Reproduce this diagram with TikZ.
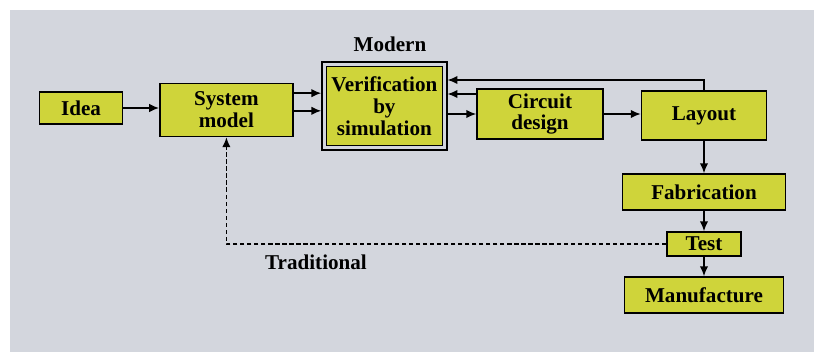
\documentclass[tikz,border=0pt]{standalone}
\usepackage{fontspec}
\setmainfont{Liberation Serif}
\usetikzlibrary{arrows.meta}
\definecolor{page}{RGB}{211,214,221}
\definecolor{boxfill}{RGB}{207,212,58}
\tikzset{
  blk/.style={draw=black, line width=1.2pt, fill=boxfill, align=center,
    font=\fontsize{15}{15.5}\selectfont\bfseries, inner sep=1pt},
  arr/.style={line width=1pt, -{Latex[length=7pt,width=6pt]}},
  trad/.style={line width=1pt, dashed, dash pattern=on 3pt off 2pt, -{Latex[length=7pt,width=6pt]}},
  lbl/.style={font=\fontsize{15}{15.5}\selectfont\bfseries}
}
\begin{document}
\begin{tikzpicture}
% page
\fill[white] (0,0) rectangle (20.35,8.8);
\fill[page] (0.25,0) rectangle (20.35,8.55);
\useasboundingbox (0,0) rectangle (20.35,8.8);

\node[blk, minimum width=2.075cm, minimum height=0.8cm] (idea) at (2.025,6.1) {Idea};
\node[blk, minimum width=3.325cm, minimum height=1.325cm] (sys) at (5.66,6.05) {System\\model};
\node[draw=black, line width=1pt, minimum width=3.125cm, minimum height=2.2cm] (vframe) at (9.61,6.15) {};
\node[blk, minimum width=2.9cm, minimum height=1.975cm] (verif) at (9.61,6.15) {Verification\\by\\simulation};
\node[blk, minimum width=3.15cm, minimum height=1.25cm] (circ) at (13.5,5.95) {Circuit\\design};
\node[blk, minimum width=3.125cm, minimum height=1.225cm] (lay) at (17.6,5.91) {Layout};
\node[blk, minimum width=4.075cm, minimum height=0.9cm] (fab) at (17.6,4.0) {Fabrication};
\node[blk, minimum width=1.85cm, minimum height=0.6cm] (test) at (17.6,2.7) {Test};
\node[blk, minimum width=3.975cm, minimum height=0.9cm] (manu) at (17.6,1.425) {Manufacture};

\node[lbl] (modern) at (9.75,7.7) {Modern};
\node[lbl] (tradl) at (7.9,2.25) {Traditional};

% forward flow
\draw[arr] (idea.east) -- (idea.east -| sys.west);
\draw[arr] ([yshift=4.2mm]sys.east) -- ([yshift=4.2mm]sys.east -| vframe.west);
\draw[arr] ([yshift=-0.2mm]sys.east) -- ([yshift=-0.2mm]sys.east -| vframe.west);
\draw[arr] ([yshift=5mm]circ.west) -- ([yshift=5mm]circ.west -| vframe.east);
\draw[arr] (circ.west -| vframe.east) -- (circ.west);
\draw[arr] (circ.east) -- (circ.east -| lay.west);
\draw[arr] (lay.north) |- ([yshift=6.5mm]vframe.east);
\draw[arr] (lay.south) -- (fab.north);
\draw[arr] (fab.south) -- (test.north);
\draw[arr] (test.south) -- (manu.north);

% traditional loop
\draw[trad] (test.west) -| (sys.south);
\end{tikzpicture}
\end{document}
